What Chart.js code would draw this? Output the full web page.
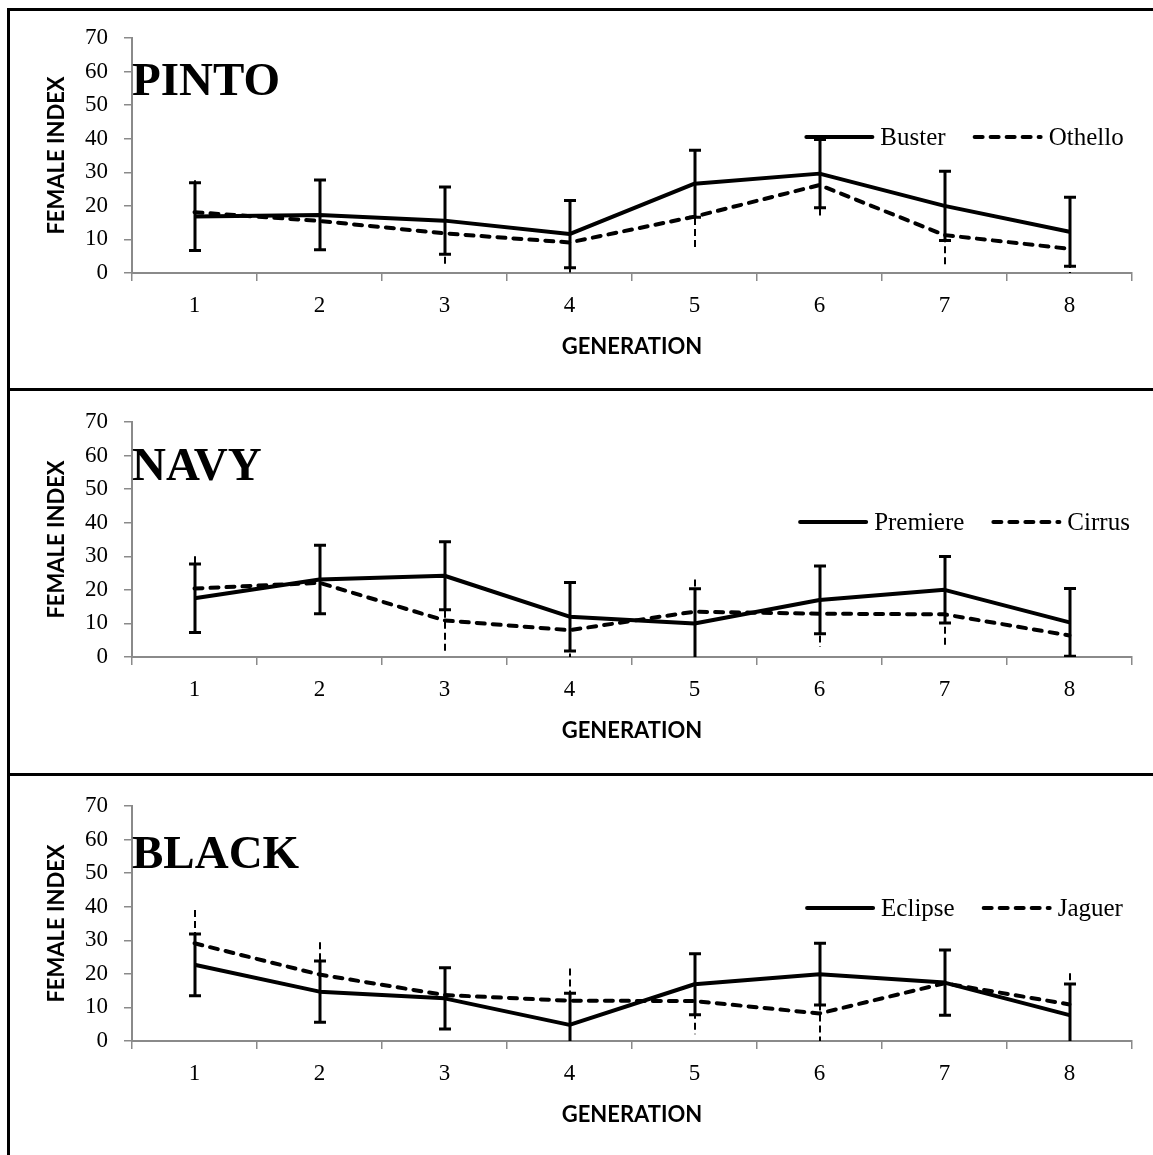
<!DOCTYPE html>
<html>
<head>
<meta charset="utf-8">
<title>Female index by generation</title>
<script src="https://cdn.jsdelivr.net/npm/chart.js@4.4.1/dist/chart.umd.min.js"></script>
<style>
  html, body { margin: 0; padding: 0; background: #fff; }
  #wrap { position: relative; width: 1153px; height: 1155px; overflow: hidden; background: #fff; }
  .panel { position: absolute; left: 0; width: 1153px; height: 384px; }
  .panel canvas { display: block; }
  .rule { position: absolute; background: #000; pointer-events: none; }
</style>
</head>
<body>
<div id="wrap">
  <div class="panel" style="top:0px"><canvas id="pinto" width="1153" height="384"></canvas></div>
  <div class="panel" style="top:384px"><canvas id="navy" width="1153" height="384"></canvas></div>
  <div class="panel" style="top:768px"><canvas id="black" width="1153" height="384"></canvas></div>
  <!-- frame lines: top, left edge and the two panel separators -->
  <div class="rule" style="left:7px; top:8px; width:1146px; height:3px"></div>
  <div class="rule" style="left:7px; top:8px; width:3px; height:1147px"></div>
  <div class="rule" style="left:7px; top:388px; width:1146px; height:3px"></div>
  <div class="rule" style="left:7px; top:773px; width:1146px; height:3px"></div>
</div>
<script>
// ---- data ----
const generations = ['1', '2', '3', '4', '5', '6', '7', '8'];
const indexTicks = [0, 10, 20, 30, 40, 50, 60, 70];

// PINTO
const busterMean  = [16.8, 17.3, 15.6, 11.6, 26.6, 29.6, 20.0, 12.3];
const busterErr   = [10.1, 10.4, 10.0, 10.0, 10.0, 10.2, 10.3, 10.3];
const othelloMean = [18.1, 15.5, 11.8, 9.1, 16.8, 26.2, 11.3, 7.2];
const othelloErr  = [9.5, 9.5, 9.4, 9.5, 9.4, 9.4, 9.8, 9.5];

// NAVY
const premiereMean = [17.5, 23.1, 24.2, 12.0, 10.0, 17.0, 20.0, 10.3];
const premiereErr  = [10.2, 10.2, 10.1, 10.2, 10.3, 10.1, 9.9, 10.1];
const cirrusMean   = [20.4, 22.1, 10.9, 8.0, 13.5, 12.9, 12.7, 6.4];
const cirrusErr    = [9.6, 9.6, 9.4, 9.4, 9.6, 9.9, 9.4, 9.4];

// BLACK
const eclipseMean = [22.7, 14.7, 12.7, 4.8, 16.9, 19.9, 17.4, 7.7];
const eclipseErr  = [9.2, 9.1, 9.1, 9.4, 9.1, 9.2, 9.7, 9.3];
const jaguerMean  = [29.1, 19.8, 13.7, 12.0, 11.9, 8.2, 17.2, 10.9];
const jaguerErr   = [9.9, 9.6, 8.0, 9.6, 9.9, 9.5, 9.0, 9.3];

// ---- styling ----
const AXIS_GREY = '#8a8a8a';
const SERIF = '"Liberation Serif", "Times New Roman", serif';
const SANS = 'Lato, "Liberation Sans", sans-serif';
const LINE_DASH = [8, 8];

// vertical error bars: solid with caps for the first series, thin dashed for the second
const errorBars = {
  id: 'errorBars',
  afterDatasetsDraw(chart) {
    const { ctx, chartArea: a, scales: { y } } = chart;
    ctx.save();
    ctx.beginPath();
    ctx.rect(a.left, 0, a.right - a.left, a.bottom);
    ctx.clip();
    chart.data.datasets.forEach((ds, i) => {
      const meta = chart.getDatasetMeta(i);
      const dashed = !!ds.borderDash;
      ctx.strokeStyle = '#000';
      ctx.lineCap = 'butt';
      ds.data.forEach((v, j) => {
        const px = Math.round(meta.data[j].x);
        const hi = v + ds.errors[j];
        const lo = v - ds.errors[j];
        const yHi = y.getPixelForValue(hi);
        const yLo = y.getPixelForValue(Math.max(0, lo));
        if (dashed) {
          ctx.lineWidth = 2;
          ctx.setLineDash([7, 4]);
          ctx.beginPath();
          ctx.moveTo(px, yHi);
          ctx.lineTo(px, yLo);
          ctx.stroke();
        } else {
          ctx.lineWidth = 3;
          ctx.setLineDash([]);
          ctx.beginPath();
          ctx.moveTo(px, yHi);
          ctx.lineTo(px, yLo);
          ctx.moveTo(px - 6, yHi);
          ctx.lineTo(px + 6, yHi);
          if (lo >= 0) {
            ctx.moveTo(px - 6, yLo);
            ctx.lineTo(px + 6, yLo);
          }
          ctx.stroke();
        }
      });
    });
    ctx.restore();
  }
};

// line-sample legend drawn inside the plot area
const sampleLegend = {
  id: 'sampleLegend',
  afterDraw(chart, args, opts) {
    const ctx = chart.ctx;
    ctx.save();
    ctx.font = opts.font;
    const items = chart.data.datasets.map(ds => ({ ds, w: ctx.measureText(ds.label).width }));
    const total = items.reduce((s, it) => s + opts.sample + opts.textGap + it.w, 0) +
                  opts.itemGap * (items.length - 1);
    let x = opts.centerX - total / 2;
    items.forEach(it => {
      ctx.strokeStyle = '#000';
      ctx.lineWidth = it.ds.borderWidth;
      ctx.lineCap = 'round';
      ctx.setLineDash(it.ds.borderDash || []);
      ctx.beginPath();
      ctx.moveTo(x + 2, opts.y);
      ctx.lineTo(x + opts.sample - 2, opts.y);
      ctx.stroke();
      x += opts.sample + opts.textGap;
      ctx.setLineDash([]);
      ctx.fillStyle = '#000';
      ctx.textAlign = 'left';
      ctx.textBaseline = 'middle';
      ctx.fillText(it.ds.label, x, opts.y + 1);
      x += it.w + opts.itemGap;
    });
    ctx.restore();
  }
};

// large variety name in the upper-left of the plot
const panelLabel = {
  id: 'panelLabel',
  afterDraw(chart, args, opts) {
    const ctx = chart.ctx;
    ctx.save();
    ctx.font = 'bold 47px ' + SERIF;
    ctx.fillStyle = '#000';
    ctx.textAlign = 'left';
    ctx.textBaseline = 'alphabetic';
    ctx.fillText(opts.text, opts.x, opts.y);
    ctx.restore();
  }
};

function makeChart(id, name, labelBaseline, legendY, first, second) {
  const ds = (s, dashed) => ({
    label: s.label,
    data: s.mean,
    errors: s.err,
    borderColor: '#000',
    backgroundColor: '#000',
    borderWidth: 4,
    borderDash: dashed ? LINE_DASH : undefined,
    borderCapStyle: dashed ? 'round' : 'butt',
    borderJoinStyle: 'round',
    pointRadius: 0,
    pointHoverRadius: 0,
    tension: 0,
    fill: false
  });
  return new Chart(document.getElementById(id), {
    type: 'line',
    data: {
      labels: generations,
      datasets: [ds(first, false), ds(second, true)]
    },
    options: {
      responsive: false,
      animation: false,
      devicePixelRatio: 1,
      layout: { padding: { top: 38, left: 0, right: 21, bottom: 0 } },
      scales: {
        x: {
          type: 'category',
          offset: true,
          grid: { offset: true, drawOnChartArea: false, drawTicks: true, tickLength: 8, color: AXIS_GREY, lineWidth: 1.5 },
          border: { display: true, color: AXIS_GREY, width: 2 },
          ticks: { font: { family: SERIF, size: 23 }, color: '#000', padding: 11, maxRotation: 0, autoSkip: false },
          title: {
            display: true, text: 'GENERATION', color: '#000',
            font: { family: SANS, size: 22, weight: 'bold' },
            padding: { top: 0, bottom: 24 }
          },
          afterFit(scale) {
            scale.height = 384 - 273;
            scale.paddingLeft = 0;
            scale.paddingRight = 0;
          }
        },
        y: {
          min: 0,
          max: 70,
          afterBuildTicks(scale) {
            scale.ticks = indexTicks.map(v => ({ value: v }));
          },
          grid: { drawOnChartArea: false, drawTicks: true, tickLength: 8, color: AXIS_GREY, lineWidth: 1.5 },
          border: { display: true, color: AXIS_GREY, width: 2 },
          ticks: { font: { family: SERIF, size: 23 }, color: '#000', padding: 16 },
          title: {
            display: true, text: 'FEMALE INDEX', color: '#000',
            font: { family: SANS, size: 22, weight: 'bold' },
            padding: { top: 44, bottom: 0 }
          },
          afterFit(scale) {
            scale.width = 132;
            scale.paddingTop = 0;
            scale.paddingBottom = 0;
          }
        }
      },
      plugins: {
        legend: { display: false },
        tooltip: { enabled: false },
        panelLabel: { text: name, x: 132, y: labelBaseline },
        sampleLegend: {
          font: '25px ' + SERIF, centerX: 964, y: legendY,
          sample: 70, textGap: 6, itemGap: 27
        }
      }
    },
    plugins: [errorBars, sampleLegend, panelLabel]
  });
}

makeChart('pinto', 'PINTO', 95, 137,
  { label: 'Buster', mean: busterMean, err: busterErr },
  { label: 'Othello', mean: othelloMean, err: othelloErr });
makeChart('navy', 'NAVY', 96, 138,
  { label: 'Premiere', mean: premiereMean, err: premiereErr },
  { label: 'Cirrus', mean: cirrusMean, err: cirrusErr });
makeChart('black', 'BLACK', 100, 140,
  { label: 'Eclipse', mean: eclipseMean, err: eclipseErr },
  { label: 'Jaguer', mean: jaguerMean, err: jaguerErr });
</script>
</body>
</html>
